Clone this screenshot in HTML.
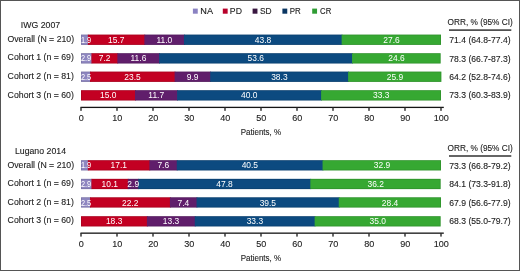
<!DOCTYPE html>
<html><head><meta charset="utf-8"><style>
html,body{margin:0;padding:0;background:#fff;}
body{width:520px;height:271px;position:relative;overflow:hidden;font-family:"Liberation Sans", sans-serif;}
.frame{position:absolute;left:0;top:0;width:518px;height:269px;border:1px solid #555;}
.t{position:absolute;white-space:nowrap;-webkit-text-stroke:0.12px currentColor;}
.w{-webkit-text-stroke:0;}
.g{position:absolute;left:0;top:0;}
.layer{position:absolute;left:0;top:0;width:520px;height:271px;will-change:transform;}
</style></head><body>
<div class="frame"></div>
<svg class="g" width="520" height="271" viewBox="0 0 520 271"><rect x="192.90" y="8.60" width="4.85" height="5.10" fill="#8a82c2"/><rect x="222.80" y="8.60" width="4.85" height="5.10" fill="#b8002a"/><rect x="252.60" y="8.60" width="4.85" height="5.10" fill="#38163f"/><rect x="282.40" y="8.60" width="4.85" height="5.10" fill="#0a3662"/><rect x="312.20" y="8.60" width="4.85" height="5.10" fill="#2f9c34"/><rect x="449.00" y="29.35" width="62.30" height="1.50" fill="#333333"/><rect x="81.00" y="34.60" width="7.64" height="10.30" fill="#8e86c0"/><rect x="87.84" y="34.60" width="57.32" height="10.30" fill="#c30022"/><rect x="144.36" y="34.60" width="40.40" height="10.30" fill="#601e6b"/><rect x="183.96" y="34.60" width="158.48" height="10.30" fill="#0c4a80"/><rect x="341.64" y="34.60" width="99.36" height="10.30" fill="#36a832"/><rect x="81.40" y="35.00" width="359.20" height="9.50" fill="none" stroke="rgba(0,0,0,0.13)" stroke-width="0.8"/><rect x="81.00" y="53.20" width="11.24" height="10.30" fill="#8e86c0"/><rect x="91.44" y="53.20" width="26.72" height="10.30" fill="#c30022"/><rect x="117.36" y="53.20" width="42.56" height="10.30" fill="#601e6b"/><rect x="159.12" y="53.20" width="193.76" height="10.30" fill="#0c4a80"/><rect x="352.08" y="53.20" width="88.56" height="10.30" fill="#36a832"/><rect x="81.40" y="53.60" width="358.84" height="9.50" fill="none" stroke="rgba(0,0,0,0.13)" stroke-width="0.8"/><rect x="81.00" y="71.60" width="9.80" height="10.30" fill="#8e86c0"/><rect x="90.00" y="71.60" width="85.40" height="10.30" fill="#c30022"/><rect x="174.60" y="71.60" width="36.44" height="10.30" fill="#601e6b"/><rect x="210.24" y="71.60" width="138.68" height="10.30" fill="#0c4a80"/><rect x="348.12" y="71.60" width="93.24" height="10.30" fill="#36a832"/><rect x="81.40" y="72.00" width="359.56" height="9.50" fill="none" stroke="rgba(0,0,0,0.13)" stroke-width="0.8"/><rect x="81.00" y="90.20" width="54.80" height="10.30" fill="#c30022"/><rect x="135.00" y="90.20" width="42.92" height="10.30" fill="#601e6b"/><rect x="177.12" y="90.20" width="144.80" height="10.30" fill="#0c4a80"/><rect x="321.12" y="90.20" width="119.88" height="10.30" fill="#36a832"/><rect x="81.40" y="90.60" width="359.20" height="9.50" fill="none" stroke="rgba(0,0,0,0.13)" stroke-width="0.8"/><rect x="80.50" y="106.75" width="363.30" height="1.30" fill="#151515"/><rect x="80.30" y="107.35" width="1.40" height="3.50" fill="#2a2a2a"/><rect x="116.30" y="107.35" width="1.40" height="3.50" fill="#2a2a2a"/><rect x="152.30" y="107.35" width="1.40" height="3.50" fill="#2a2a2a"/><rect x="188.30" y="107.35" width="1.40" height="3.50" fill="#2a2a2a"/><rect x="224.30" y="107.35" width="1.40" height="3.50" fill="#2a2a2a"/><rect x="260.30" y="107.35" width="1.40" height="3.50" fill="#2a2a2a"/><rect x="296.30" y="107.35" width="1.40" height="3.50" fill="#2a2a2a"/><rect x="332.30" y="107.35" width="1.40" height="3.50" fill="#2a2a2a"/><rect x="368.30" y="107.35" width="1.40" height="3.50" fill="#2a2a2a"/><rect x="404.30" y="107.35" width="1.40" height="3.50" fill="#2a2a2a"/><rect x="440.30" y="107.35" width="1.40" height="3.50" fill="#2a2a2a"/><rect x="449.00" y="155.25" width="62.30" height="1.50" fill="#333333"/><rect x="81.00" y="160.20" width="7.64" height="10.25" fill="#8e86c0"/><rect x="87.84" y="160.20" width="62.36" height="10.25" fill="#c30022"/><rect x="149.40" y="160.20" width="28.16" height="10.25" fill="#601e6b"/><rect x="176.76" y="160.20" width="146.60" height="10.25" fill="#0c4a80"/><rect x="322.56" y="160.20" width="118.44" height="10.25" fill="#36a832"/><rect x="81.40" y="160.60" width="359.20" height="9.45" fill="none" stroke="rgba(0,0,0,0.13)" stroke-width="0.8"/><rect x="81.00" y="178.85" width="11.24" height="10.25" fill="#8e86c0"/><rect x="91.44" y="178.85" width="37.16" height="10.25" fill="#c30022"/><rect x="127.80" y="178.85" width="11.24" height="10.25" fill="#601e6b"/><rect x="138.24" y="178.85" width="172.88" height="10.25" fill="#0c4a80"/><rect x="310.32" y="178.85" width="130.32" height="10.25" fill="#36a832"/><rect x="81.40" y="179.25" width="358.84" height="9.45" fill="none" stroke="rgba(0,0,0,0.13)" stroke-width="0.8"/><rect x="81.00" y="197.30" width="9.80" height="10.25" fill="#8e86c0"/><rect x="90.00" y="197.30" width="80.72" height="10.25" fill="#c30022"/><rect x="169.92" y="197.30" width="27.44" height="10.25" fill="#601e6b"/><rect x="196.56" y="197.30" width="143.00" height="10.25" fill="#0c4a80"/><rect x="338.76" y="197.30" width="102.24" height="10.25" fill="#36a832"/><rect x="81.40" y="197.70" width="359.20" height="9.45" fill="none" stroke="rgba(0,0,0,0.13)" stroke-width="0.8"/><rect x="81.00" y="216.20" width="66.68" height="10.25" fill="#c30022"/><rect x="146.88" y="216.20" width="48.68" height="10.25" fill="#601e6b"/><rect x="194.76" y="216.20" width="120.68" height="10.25" fill="#0c4a80"/><rect x="314.64" y="216.20" width="126.00" height="10.25" fill="#36a832"/><rect x="81.40" y="216.60" width="358.84" height="9.45" fill="none" stroke="rgba(0,0,0,0.13)" stroke-width="0.8"/><rect x="80.50" y="232.50" width="363.30" height="1.30" fill="#151515"/><rect x="80.30" y="233.10" width="1.40" height="3.50" fill="#2a2a2a"/><rect x="116.30" y="233.10" width="1.40" height="3.50" fill="#2a2a2a"/><rect x="152.30" y="233.10" width="1.40" height="3.50" fill="#2a2a2a"/><rect x="188.30" y="233.10" width="1.40" height="3.50" fill="#2a2a2a"/><rect x="224.30" y="233.10" width="1.40" height="3.50" fill="#2a2a2a"/><rect x="260.30" y="233.10" width="1.40" height="3.50" fill="#2a2a2a"/><rect x="296.30" y="233.10" width="1.40" height="3.50" fill="#2a2a2a"/><rect x="332.30" y="233.10" width="1.40" height="3.50" fill="#2a2a2a"/><rect x="368.30" y="233.10" width="1.40" height="3.50" fill="#2a2a2a"/><rect x="404.30" y="233.10" width="1.40" height="3.50" fill="#2a2a2a"/><rect x="440.30" y="233.10" width="1.40" height="3.50" fill="#2a2a2a"/></svg>
<div class="layer">
<div class="t" style="left:200.00px;top:6.00px;font-size:8.4px;line-height:8.4px;color:#1c1c1c;transform:translate(0.30px,0.64px) scaleX(1.0895238095238096);transform-origin:0 50%;">NA</div>
<div class="t" style="left:229.00px;top:6.00px;font-size:8.4px;line-height:8.4px;color:#1c1c1c;transform:translate(0.85px,0.64px) scaleX(1.0371428571428571);transform-origin:0 50%;">PD</div>
<div class="t" style="left:259.00px;top:6.00px;font-size:8.4px;line-height:8.4px;color:#1c1c1c;transform:translate(0.90px,0.64px) scaleX(1.0004761904761905);transform-origin:0 50%;">SD</div>
<div class="t" style="left:289.00px;top:6.00px;font-size:8.4px;line-height:8.4px;color:#1c1c1c;transform:translate(0.85px,0.64px) scaleX(0.942857142857143);transform-origin:0 50%;">PR</div>
<div class="t" style="left:320.00px;top:6.00px;font-size:8.4px;line-height:8.4px;color:#1c1c1c;transform:translate(0.10px,0.64px) scaleX(0.9219047619047619);transform-origin:0 50%;">CR</div>
<div class="t" style="left:40.00px;top:20.00px;font-size:9.1px;line-height:9.1px;color:#1c1c1c;transform:translate(0.45px,1.00px) translateX(-50%) scaleX(0.9621978021978023);transform-origin:50% 50%;">IWG 2007</div>
<div class="t" style="left:480.00px;top:18.00px;font-size:9.1px;line-height:9.1px;color:#1c1c1c;transform:translate(0.15px,0.10px) translateX(-50%) scaleX(0.9090109890109891);transform-origin:50% 50%;">ORR, % (95% CI)</div>
<div class="t" style="left:40.00px;top:33.00px;font-size:9.4px;line-height:9.4px;color:#1c1c1c;transform:translate(0.75px,0.89px) translateX(-50%) scaleX(0.9314893617021276);transform-origin:50% 50%;">Overall (N = 210)</div>
<div class="t w" style="left:80.00px;top:34.00px;font-size:9.6px;line-height:9.6px;color:#fff;transform:translate(0.90px,0.82px) scaleX(0.77);transform-origin:0 50%;">1.9</div>
<div class="t w" style="left:116.00px;top:34.00px;font-size:9.6px;line-height:9.6px;color:#fff;transform:translate(0.30px,0.82px) translateX(-50%) scaleX(0.8800000000000001);transform-origin:50% 50%;">15.7</div>
<div class="t w" style="left:164.00px;top:34.00px;font-size:9.6px;line-height:9.6px;color:#fff;transform:translate(0.36px,0.82px) translateX(-50%) scaleX(0.8800000000000001);transform-origin:50% 50%;">11.0</div>
<div class="t w" style="left:263.00px;top:34.00px;font-size:9.6px;line-height:9.6px;color:#fff;transform:translate(0.00px,0.82px) translateX(-50%) scaleX(0.8800000000000001);transform-origin:50% 50%;">43.8</div>
<div class="t w" style="left:391.00px;top:34.00px;font-size:9.6px;line-height:9.6px;color:#fff;transform:translate(0.52px,0.82px) translateX(-50%) scaleX(0.8800000000000001);transform-origin:50% 50%;">27.6</div>
<div class="t" style="left:479.00px;top:36.00px;font-size:9.1px;line-height:9.1px;color:#1c1c1c;transform:translate(0.90px,0.15px) translateX(-50%) scaleX(0.9476923076923078);transform-origin:50% 50%;">71.4 (64.8-77.4)</div>
<div class="t" style="left:40.00px;top:52.00px;font-size:9.4px;line-height:9.4px;color:#1c1c1c;transform:translate(0.75px,0.44px) translateX(-50%) scaleX(0.9314893617021276);transform-origin:50% 50%;">Cohort 1 (n = 69)</div>
<div class="t w" style="left:80.00px;top:53.00px;font-size:9.6px;line-height:9.6px;color:#fff;transform:translate(0.90px,0.42px) scaleX(0.77);transform-origin:0 50%;">2.9</div>
<div class="t w" style="left:104.00px;top:53.00px;font-size:9.6px;line-height:9.6px;color:#fff;transform:translate(0.60px,0.42px) translateX(-50%) scaleX(0.8800000000000001);transform-origin:50% 50%;">7.2</div>
<div class="t w" style="left:138.00px;top:53.00px;font-size:9.6px;line-height:9.6px;color:#fff;transform:translate(0.44px,0.42px) translateX(-50%) scaleX(0.8800000000000001);transform-origin:50% 50%;">11.6</div>
<div class="t w" style="left:255.00px;top:53.00px;font-size:9.6px;line-height:9.6px;color:#fff;transform:translate(0.80px,0.42px) translateX(-50%) scaleX(0.8800000000000001);transform-origin:50% 50%;">53.6</div>
<div class="t w" style="left:396.00px;top:53.00px;font-size:9.6px;line-height:9.6px;color:#fff;transform:translate(0.56px,0.42px) translateX(-50%) scaleX(0.8800000000000001);transform-origin:50% 50%;">24.6</div>
<div class="t" style="left:479.00px;top:54.00px;font-size:9.1px;line-height:9.1px;color:#1c1c1c;transform:translate(0.90px,0.55px) translateX(-50%) scaleX(0.9476923076923078);transform-origin:50% 50%;">78.3 (66.7-87.3)</div>
<div class="t" style="left:40.00px;top:70.00px;font-size:9.4px;line-height:9.4px;color:#1c1c1c;transform:translate(0.75px,0.99px) translateX(-50%) scaleX(0.9314893617021276);transform-origin:50% 50%;">Cohort 2 (n = 81)</div>
<div class="t w" style="left:80.00px;top:71.00px;font-size:9.6px;line-height:9.6px;color:#fff;transform:translate(0.90px,0.82px) scaleX(0.77);transform-origin:0 50%;">2.5</div>
<div class="t w" style="left:132.00px;top:71.00px;font-size:9.6px;line-height:9.6px;color:#fff;transform:translate(0.50px,0.82px) translateX(-50%) scaleX(0.8800000000000001);transform-origin:50% 50%;">23.5</div>
<div class="t w" style="left:192.00px;top:71.00px;font-size:9.6px;line-height:9.6px;color:#fff;transform:translate(0.62px,0.82px) translateX(-50%) scaleX(0.8800000000000001);transform-origin:50% 50%;">9.9</div>
<div class="t w" style="left:279.00px;top:71.00px;font-size:9.6px;line-height:9.6px;color:#fff;transform:translate(0.38px,0.82px) translateX(-50%) scaleX(0.8800000000000001);transform-origin:50% 50%;">38.3</div>
<div class="t w" style="left:394.00px;top:71.00px;font-size:9.6px;line-height:9.6px;color:#fff;transform:translate(0.94px,0.82px) translateX(-50%) scaleX(0.8800000000000001);transform-origin:50% 50%;">25.9</div>
<div class="t" style="left:479.00px;top:72.00px;font-size:9.1px;line-height:9.1px;color:#1c1c1c;transform:translate(0.90px,0.95px) translateX(-50%) scaleX(0.9476923076923078);transform-origin:50% 50%;">64.2 (52.8-74.6)</div>
<div class="t" style="left:40.00px;top:89.00px;font-size:9.4px;line-height:9.4px;color:#1c1c1c;transform:translate(0.75px,0.54px) translateX(-50%) scaleX(0.9314893617021276);transform-origin:50% 50%;">Cohort 3 (n = 60)</div>
<div class="t w" style="left:108.00px;top:90.00px;font-size:9.6px;line-height:9.6px;color:#fff;transform:translate(0.20px,0.42px) translateX(-50%) scaleX(0.8800000000000001);transform-origin:50% 50%;">15.0</div>
<div class="t w" style="left:156.00px;top:90.00px;font-size:9.6px;line-height:9.6px;color:#fff;transform:translate(0.26px,0.42px) translateX(-50%) scaleX(0.8800000000000001);transform-origin:50% 50%;">11.7</div>
<div class="t w" style="left:249.00px;top:90.00px;font-size:9.6px;line-height:9.6px;color:#fff;transform:translate(0.32px,0.42px) translateX(-50%) scaleX(0.8800000000000001);transform-origin:50% 50%;">40.0</div>
<div class="t w" style="left:381.00px;top:90.00px;font-size:9.6px;line-height:9.6px;color:#fff;transform:translate(0.26px,0.42px) translateX(-50%) scaleX(0.8800000000000001);transform-origin:50% 50%;">33.3</div>
<div class="t" style="left:479.00px;top:91.00px;font-size:9.1px;line-height:9.1px;color:#1c1c1c;transform:translate(0.90px,0.35px) translateX(-50%) scaleX(0.9476923076923078);transform-origin:50% 50%;">73.3 (60.3-83.9)</div>
<div class="t" style="left:81.00px;top:112.00px;font-size:9.6px;line-height:9.6px;color:#1c1c1c;transform:translate(0.30px,0.77px) translateX(-50%) scaleX(0.9441666666666669);transform-origin:50% 50%;">0</div>
<div class="t" style="left:117.00px;top:112.00px;font-size:9.6px;line-height:9.6px;color:#1c1c1c;transform:translate(0.30px,0.77px) translateX(-50%) scaleX(0.9441666666666669);transform-origin:50% 50%;">10</div>
<div class="t" style="left:153.00px;top:112.00px;font-size:9.6px;line-height:9.6px;color:#1c1c1c;transform:translate(0.30px,0.77px) translateX(-50%) scaleX(0.9441666666666669);transform-origin:50% 50%;">20</div>
<div class="t" style="left:189.00px;top:112.00px;font-size:9.6px;line-height:9.6px;color:#1c1c1c;transform:translate(0.30px,0.77px) translateX(-50%) scaleX(0.9441666666666669);transform-origin:50% 50%;">30</div>
<div class="t" style="left:225.00px;top:112.00px;font-size:9.6px;line-height:9.6px;color:#1c1c1c;transform:translate(0.30px,0.77px) translateX(-50%) scaleX(0.9441666666666669);transform-origin:50% 50%;">40</div>
<div class="t" style="left:261.00px;top:112.00px;font-size:9.6px;line-height:9.6px;color:#1c1c1c;transform:translate(0.30px,0.77px) translateX(-50%) scaleX(0.9441666666666669);transform-origin:50% 50%;">50</div>
<div class="t" style="left:297.00px;top:112.00px;font-size:9.6px;line-height:9.6px;color:#1c1c1c;transform:translate(0.30px,0.77px) translateX(-50%) scaleX(0.9441666666666669);transform-origin:50% 50%;">60</div>
<div class="t" style="left:333.00px;top:112.00px;font-size:9.6px;line-height:9.6px;color:#1c1c1c;transform:translate(0.30px,0.77px) translateX(-50%) scaleX(0.9441666666666669);transform-origin:50% 50%;">70</div>
<div class="t" style="left:369.00px;top:112.00px;font-size:9.6px;line-height:9.6px;color:#1c1c1c;transform:translate(0.30px,0.77px) translateX(-50%) scaleX(0.9441666666666669);transform-origin:50% 50%;">80</div>
<div class="t" style="left:405.00px;top:112.00px;font-size:9.6px;line-height:9.6px;color:#1c1c1c;transform:translate(0.30px,0.77px) translateX(-50%) scaleX(0.9441666666666669);transform-origin:50% 50%;">90</div>
<div class="t" style="left:441.00px;top:112.00px;font-size:9.6px;line-height:9.6px;color:#1c1c1c;transform:translate(0.30px,0.77px) translateX(-50%) scaleX(0.9441666666666669);transform-origin:50% 50%;">100</div>
<div class="t" style="left:260.00px;top:127.00px;font-size:9.1px;line-height:9.1px;color:#1c1c1c;transform:translate(0.90px,0.50px) translateX(-50%) scaleX(0.8800000000000001);transform-origin:50% 50%;">Patients, %</div>
<div class="t" style="left:40.00px;top:147.00px;font-size:9.1px;line-height:9.1px;color:#1c1c1c;transform:translate(0.45px,0.40px) translateX(-50%) scaleX(0.9621978021978023);transform-origin:50% 50%;">Lugano 2014</div>
<div class="t" style="left:480.00px;top:143.00px;font-size:9.1px;line-height:9.1px;color:#1c1c1c;transform:translate(0.15px,0.90px) translateX(-50%) scaleX(0.9090109890109891);transform-origin:50% 50%;">ORR, % (95% CI)</div>
<div class="t" style="left:40.00px;top:159.00px;font-size:9.4px;line-height:9.4px;color:#1c1c1c;transform:translate(0.75px,0.69px) translateX(-50%) scaleX(0.9314893617021276);transform-origin:50% 50%;">Overall (N = 210)</div>
<div class="t w" style="left:80.00px;top:160.00px;font-size:9.6px;line-height:9.6px;color:#fff;transform:translate(0.90px,0.42px) scaleX(0.77);transform-origin:0 50%;">1.9</div>
<div class="t w" style="left:118.00px;top:160.00px;font-size:9.6px;line-height:9.6px;color:#fff;transform:translate(0.82px,0.42px) translateX(-50%) scaleX(0.8800000000000001);transform-origin:50% 50%;">17.1</div>
<div class="t w" style="left:163.00px;top:160.00px;font-size:9.6px;line-height:9.6px;color:#fff;transform:translate(0.28px,0.42px) translateX(-50%) scaleX(0.8800000000000001);transform-origin:50% 50%;">7.6</div>
<div class="t w" style="left:249.00px;top:160.00px;font-size:9.6px;line-height:9.6px;color:#fff;transform:translate(0.86px,0.42px) translateX(-50%) scaleX(0.8800000000000001);transform-origin:50% 50%;">40.5</div>
<div class="t w" style="left:381.00px;top:160.00px;font-size:9.6px;line-height:9.6px;color:#fff;transform:translate(0.98px,0.42px) translateX(-50%) scaleX(0.8800000000000001);transform-origin:50% 50%;">32.9</div>
<div class="t" style="left:479.00px;top:161.00px;font-size:9.1px;line-height:9.1px;color:#1c1c1c;transform:translate(0.90px,0.85px) translateX(-50%) scaleX(0.9476923076923078);transform-origin:50% 50%;">73.3 (66.8-79.2)</div>
<div class="t" style="left:40.00px;top:178.00px;font-size:9.4px;line-height:9.4px;color:#1c1c1c;transform:translate(0.75px,0.24px) translateX(-50%) scaleX(0.9314893617021276);transform-origin:50% 50%;">Cohort 1 (n = 69)</div>
<div class="t w" style="left:80.00px;top:179.00px;font-size:9.6px;line-height:9.6px;color:#fff;transform:translate(0.90px,0.07px) scaleX(0.77);transform-origin:0 50%;">2.9</div>
<div class="t w" style="left:109.00px;top:179.00px;font-size:9.6px;line-height:9.6px;color:#fff;transform:translate(0.82px,0.07px) translateX(-50%) scaleX(0.8800000000000001);transform-origin:50% 50%;">10.1</div>
<div class="t w" style="left:133.00px;top:179.00px;font-size:9.6px;line-height:9.6px;color:#fff;transform:translate(0.22px,0.07px) translateX(-50%) scaleX(0.8800000000000001);transform-origin:50% 50%;">2.9</div>
<div class="t w" style="left:224.00px;top:179.00px;font-size:9.6px;line-height:9.6px;color:#fff;transform:translate(0.48px,0.07px) translateX(-50%) scaleX(0.8800000000000001);transform-origin:50% 50%;">47.8</div>
<div class="t w" style="left:375.00px;top:179.00px;font-size:9.6px;line-height:9.6px;color:#fff;transform:translate(0.68px,0.07px) translateX(-50%) scaleX(0.8800000000000001);transform-origin:50% 50%;">36.2</div>
<div class="t" style="left:479.00px;top:180.00px;font-size:9.1px;line-height:9.1px;color:#1c1c1c;transform:translate(0.90px,0.25px) translateX(-50%) scaleX(0.9476923076923078);transform-origin:50% 50%;">84.1 (73.3-91.8)</div>
<div class="t" style="left:40.00px;top:196.00px;font-size:9.4px;line-height:9.4px;color:#1c1c1c;transform:translate(0.75px,0.79px) translateX(-50%) scaleX(0.9314893617021276);transform-origin:50% 50%;">Cohort 2 (n = 81)</div>
<div class="t w" style="left:80.00px;top:197.00px;font-size:9.6px;line-height:9.6px;color:#fff;transform:translate(0.90px,0.52px) scaleX(0.77);transform-origin:0 50%;">2.5</div>
<div class="t w" style="left:130.00px;top:197.00px;font-size:9.6px;line-height:9.6px;color:#fff;transform:translate(0.16px,0.52px) translateX(-50%) scaleX(0.8800000000000001);transform-origin:50% 50%;">22.2</div>
<div class="t w" style="left:183.00px;top:197.00px;font-size:9.6px;line-height:9.6px;color:#fff;transform:translate(0.44px,0.52px) translateX(-50%) scaleX(0.8800000000000001);transform-origin:50% 50%;">7.4</div>
<div class="t w" style="left:267.00px;top:197.00px;font-size:9.6px;line-height:9.6px;color:#fff;transform:translate(0.86px,0.52px) translateX(-50%) scaleX(0.8800000000000001);transform-origin:50% 50%;">39.5</div>
<div class="t w" style="left:390.00px;top:197.00px;font-size:9.6px;line-height:9.6px;color:#fff;transform:translate(0.08px,0.52px) translateX(-50%) scaleX(0.8800000000000001);transform-origin:50% 50%;">28.4</div>
<div class="t" style="left:479.00px;top:198.00px;font-size:9.1px;line-height:9.1px;color:#1c1c1c;transform:translate(0.90px,0.65px) translateX(-50%) scaleX(0.9476923076923078);transform-origin:50% 50%;">67.9 (56.6-77.9)</div>
<div class="t" style="left:40.00px;top:215.00px;font-size:9.4px;line-height:9.4px;color:#1c1c1c;transform:translate(0.75px,0.34px) translateX(-50%) scaleX(0.9314893617021276);transform-origin:50% 50%;">Cohort 3 (n = 60)</div>
<div class="t w" style="left:114.00px;top:216.00px;font-size:9.6px;line-height:9.6px;color:#fff;transform:translate(0.14px,0.42px) translateX(-50%) scaleX(0.8800000000000001);transform-origin:50% 50%;">18.3</div>
<div class="t w" style="left:171.00px;top:216.00px;font-size:9.6px;line-height:9.6px;color:#fff;transform:translate(0.02px,0.42px) translateX(-50%) scaleX(0.8800000000000001);transform-origin:50% 50%;">13.3</div>
<div class="t w" style="left:254.00px;top:216.00px;font-size:9.6px;line-height:9.6px;color:#fff;transform:translate(0.90px,0.42px) translateX(-50%) scaleX(0.8800000000000001);transform-origin:50% 50%;">33.3</div>
<div class="t w" style="left:377.00px;top:216.00px;font-size:9.6px;line-height:9.6px;color:#fff;transform:translate(0.84px,0.42px) translateX(-50%) scaleX(0.8800000000000001);transform-origin:50% 50%;">35.0</div>
<div class="t" style="left:479.00px;top:217.00px;font-size:9.1px;line-height:9.1px;color:#1c1c1c;transform:translate(0.90px,0.05px) translateX(-50%) scaleX(0.9476923076923078);transform-origin:50% 50%;">68.3 (55.0-79.7)</div>
<div class="t" style="left:81.00px;top:238.00px;font-size:9.6px;line-height:9.6px;color:#1c1c1c;transform:translate(0.30px,0.77px) translateX(-50%) scaleX(0.9441666666666669);transform-origin:50% 50%;">0</div>
<div class="t" style="left:117.00px;top:238.00px;font-size:9.6px;line-height:9.6px;color:#1c1c1c;transform:translate(0.30px,0.77px) translateX(-50%) scaleX(0.9441666666666669);transform-origin:50% 50%;">10</div>
<div class="t" style="left:153.00px;top:238.00px;font-size:9.6px;line-height:9.6px;color:#1c1c1c;transform:translate(0.30px,0.77px) translateX(-50%) scaleX(0.9441666666666669);transform-origin:50% 50%;">20</div>
<div class="t" style="left:189.00px;top:238.00px;font-size:9.6px;line-height:9.6px;color:#1c1c1c;transform:translate(0.30px,0.77px) translateX(-50%) scaleX(0.9441666666666669);transform-origin:50% 50%;">30</div>
<div class="t" style="left:225.00px;top:238.00px;font-size:9.6px;line-height:9.6px;color:#1c1c1c;transform:translate(0.30px,0.77px) translateX(-50%) scaleX(0.9441666666666669);transform-origin:50% 50%;">40</div>
<div class="t" style="left:261.00px;top:238.00px;font-size:9.6px;line-height:9.6px;color:#1c1c1c;transform:translate(0.30px,0.77px) translateX(-50%) scaleX(0.9441666666666669);transform-origin:50% 50%;">50</div>
<div class="t" style="left:297.00px;top:238.00px;font-size:9.6px;line-height:9.6px;color:#1c1c1c;transform:translate(0.30px,0.77px) translateX(-50%) scaleX(0.9441666666666669);transform-origin:50% 50%;">60</div>
<div class="t" style="left:333.00px;top:238.00px;font-size:9.6px;line-height:9.6px;color:#1c1c1c;transform:translate(0.30px,0.77px) translateX(-50%) scaleX(0.9441666666666669);transform-origin:50% 50%;">70</div>
<div class="t" style="left:369.00px;top:238.00px;font-size:9.6px;line-height:9.6px;color:#1c1c1c;transform:translate(0.30px,0.77px) translateX(-50%) scaleX(0.9441666666666669);transform-origin:50% 50%;">80</div>
<div class="t" style="left:405.00px;top:238.00px;font-size:9.6px;line-height:9.6px;color:#1c1c1c;transform:translate(0.30px,0.77px) translateX(-50%) scaleX(0.9441666666666669);transform-origin:50% 50%;">90</div>
<div class="t" style="left:441.00px;top:238.00px;font-size:9.6px;line-height:9.6px;color:#1c1c1c;transform:translate(0.30px,0.77px) translateX(-50%) scaleX(0.9441666666666669);transform-origin:50% 50%;">100</div>
<div class="t" style="left:260.00px;top:253.00px;font-size:9.1px;line-height:9.1px;color:#1c1c1c;transform:translate(0.90px,0.50px) translateX(-50%) scaleX(0.8800000000000001);transform-origin:50% 50%;">Patients, %</div>
</div>
</body></html>
